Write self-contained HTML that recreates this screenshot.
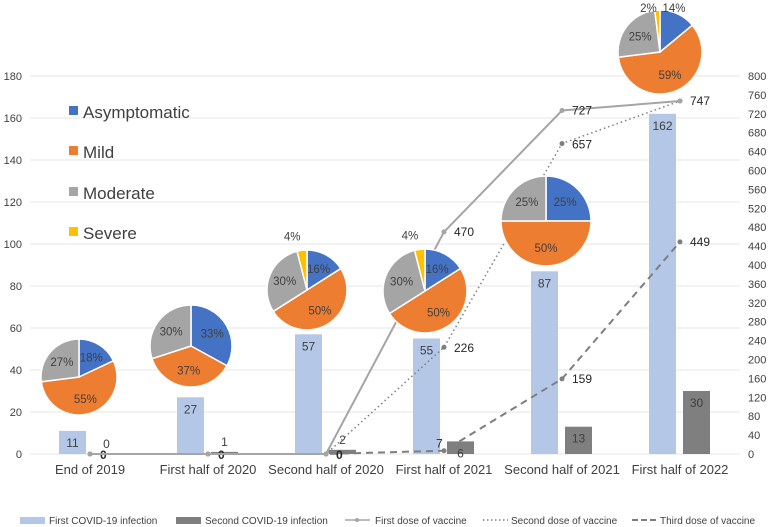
<!DOCTYPE html>
<html><head><meta charset="utf-8">
<style>
html,body{margin:0;padding:0;background:#fff;}
svg{display:block;font-family:"Liberation Sans",sans-serif;}
</style></head>
<body>
<svg id="chart" width="768" height="527" viewBox="0 0 768 527" xmlns="http://www.w3.org/2000/svg">
<g id="grid"></g>
<g id="yleft"></g>
<g id="yright"></g>
<g id="bars"></g>
<g id="lines"></g>
<g id="pies"></g>
<g id="xcat"></g>
<g font-size="17" fill="#404040">
 <rect x="69" y="106" width="9" height="9" fill="#4472c4"/>
 <text x="83" y="118">Asymptomatic</text>
 <rect x="69" y="146" width="9" height="9" fill="#ed7d31"/>
 <text x="83" y="158">Mild</text>
 <rect x="69" y="187" width="9" height="9" fill="#a5a5a5"/>
 <text x="83" y="199">Moderate</text>
 <rect x="69" y="227" width="9" height="9" fill="#ffc000"/>
 <text x="83" y="239">Severe</text>
</g>
<g font-size="10" fill="#404040">
 <rect x="20" y="517" width="25" height="7" fill="#b4c7e7"/>
 <text x="49" y="524">First COVID-19 infection</text>
 <rect x="176" y="517" width="25" height="7" fill="#7f7f7f"/>
 <text x="205" y="524">Second COVID-19 infection</text>
 <line x1="345" y1="520" x2="370" y2="520" stroke="#a5a5a5" stroke-width="1.5"/>
 <circle cx="357" cy="520" r="2" fill="#a5a5a5"/>
 <text x="375" y="524">First dose of vaccine</text>
 <line x1="483" y1="520" x2="508" y2="520" stroke="#7f7f7f" stroke-width="1.5" stroke-dasharray="1.5,2.5"/>
 <text x="511" y="524">Second dose of vaccine</text>
 <line x1="632" y1="520" x2="657" y2="520" stroke="#7f7f7f" stroke-width="2" stroke-dasharray="6,3"/>
 <text x="660" y="524">Third dose of vaccine</text>
</g>
</svg>
<script>
const categories=["End of 2019","First half of 2020","Second half of 2020","First half of 2021","Second half of 2021","First half of 2022"];
const firstInfection=[11,27,57,55,87,162];
const secondInfection=[0,1,2,6,13,30];
const firstDose=[0,0,0,470,727,747];
const secondDose=[0,0,0,226,657,747];
const thirdDose=[0,0,0,7,159,449];
const leftTicks=[0,20,40,60,80,100,120,140,160,180];
const rightTicks=[0,40,80,120,160,200,240,280,320,360,400,440,480,520,560,600,640,680,720,760,800];
const pieAsym=[18,33,16,16,25,14];
const pieMild=[55,37,50,50,50,59];
const pieMod=[27,30,30,30,25,25];
const pieSev=[0,0,4,4,0,2];

const NS="http://www.w3.org/2000/svg";
function el(tag,attrs,parent,text){const e=document.createElementNS(NS,tag);for(const k in attrs)e.setAttribute(k,attrs[k]);if(text!==undefined)e.textContent=text;parent.appendChild(e);return e;}
const y0=454,yTop=76;
function yL(v){return y0-v*(y0-yTop)/180;}
function yR(v){return y0-v*(y0-yTop)/800;}
function xC(i){return 90+i*118;}
const grid=document.getElementById('grid'),gl=document.getElementById('yleft'),gr=document.getElementById('yright');
leftTicks.forEach(t=>{
 const l=el('line',{x1:30,x2:740,y1:yL(t),y2:yL(t),stroke:'#e6e6e6','stroke-width':1},grid);
 
 
 const tx=el('text',{x:22,y:yL(t)+4,'text-anchor':'end','font-size':11,fill:'#404040'},gl,String(t));
 
 
});
rightTicks.forEach(t=>{
 const tx=el('text',{x:748,y:yR(t)+4,'font-size':11,fill:'#404040'},gr,String(t));
 
 
});
const bars=document.getElementById('bars');
categories.forEach((c,i)=>{
 const x=xC(i);
 const b1=el('rect',{x:x-31,y:yL(firstInfection[i]),width:27,height:y0-yL(firstInfection[i]),fill:'#b4c7e7'},bars);
 
 
 const t1=el('text',{x:x-17.5,y:yL(firstInfection[i])+16,'text-anchor':'middle','font-size':12,fill:'#404040'},bars,String(firstInfection[i]));
 
 
 const b2=el('rect',{x:x+3,y:yL(secondInfection[i]),width:27,height:y0-yL(secondInfection[i]),fill:'#7f7f7f'},bars);
 
 
 const inside=secondInfection[i]>=6;
 const t2=el('text',{x:x+16.5,y:inside?yL(secondInfection[i])+16:yL(secondInfection[i])-6,'text-anchor':'middle','font-size':12,fill:'#404040'},bars,String(secondInfection[i]));
 
 
 const cl=el('text',{x:x,y:474,'text-anchor':'middle','font-size':13,fill:'#404040'},document.getElementById('xcat'),c);
 
 
});
const lines=document.getElementById('lines');
function series(data,style,name,labelDy,opts){
 const pts=data.map((v,i)=>xC(i)+','+yR(v)).join(' ');
 const p=el('polyline',Object.assign({points:pts,fill:'none'},style),lines);
 
 
 data.forEach((v,i)=>{
  const c=el('circle',{cx:xC(i),cy:yR(v),r:2.5,fill:style.stroke},lines);
  
  
  if(opts.skip&&opts.skip.includes(i))return;
  if(v>0){
   let lx=xC(i)+10,ly=yR(v)+labelDy;
   if(v<20){lx=xC(i)-8;ly=yR(v)-3;}
   const t=el('text',{x:lx,y:ly,'font-size':12,fill:'#262626'},lines,String(v));
   
   
  }else if(opts.zeros){
   const t=el('text',{x:xC(i)+10,y:yR(v)+5,'font-size':12,'font-weight':'bold',fill:'#262626'},lines,'0');
   
   
  }
 });
}
series(thirdDose,{stroke:'#7f7f7f','stroke-width':2,'stroke-dasharray':'7,5'},'third-dose',4,{zeros:true});
series(secondDose,{stroke:'#7f7f7f','stroke-width':1.5,'stroke-dasharray':'1.5,3'},'second-dose',5,{zeros:false,skip:[5]});
series(firstDose,{stroke:'#a5a5a5','stroke-width':2},'first-dose',4,{zeros:false});
const pies=document.getElementById('pies');
const pieGeom=[[79,377,38],[191,346,41],[307,290,40],[425,291,42],[546,221,45],[660,52,42]];
const colors=['#4472c4','#ed7d31','#a5a5a5','#ffc000'];
pieGeom.forEach((g,i)=>{
 const vals=[pieAsym[i],pieMild[i],pieMod[i],pieSev[i]];
 const tot=vals.reduce((a,b)=>a+b,0);
 const grp=el('g',{},pies);
 
 
 let a=-Math.PI/2;
 vals.forEach((v,k)=>{
  if(v<=0)return;
  const a2=a+v/tot*2*Math.PI;
  const [cx,cy,r]=g;
  const large=(a2-a)>Math.PI?1:0;
  const d=`M${cx},${cy} L${cx+r*Math.cos(a)},${cy+r*Math.sin(a)} A${r},${r} 0 ${large} 1 ${cx+r*Math.cos(a2)},${cy+r*Math.sin(a2)} Z`;
  const s=el('path',{d:d,fill:colors[k],stroke:'#fff','stroke-width':1.5},grp);
  
  
  const m=(a+a2)/2;
  const outside=k===3||(k===0&&v<15);
  let rr=outside?r+14:r*0.6;
  let lx=cx+rr*Math.cos(m),ly=cy+rr*Math.sin(m)+4;
  if(k===3){lx-=8;}
  if(k===0&&outside){lx=cx+14;ly=cy-r+2;}
  if(ly<12)ly=12;
  const t=el('text',{x:lx,y:ly,'text-anchor':'middle','font-size':11.5,fill:'#404040'},grp,v+'%');
  
  
  a=a2;
 });
});
</script>
</body></html>
